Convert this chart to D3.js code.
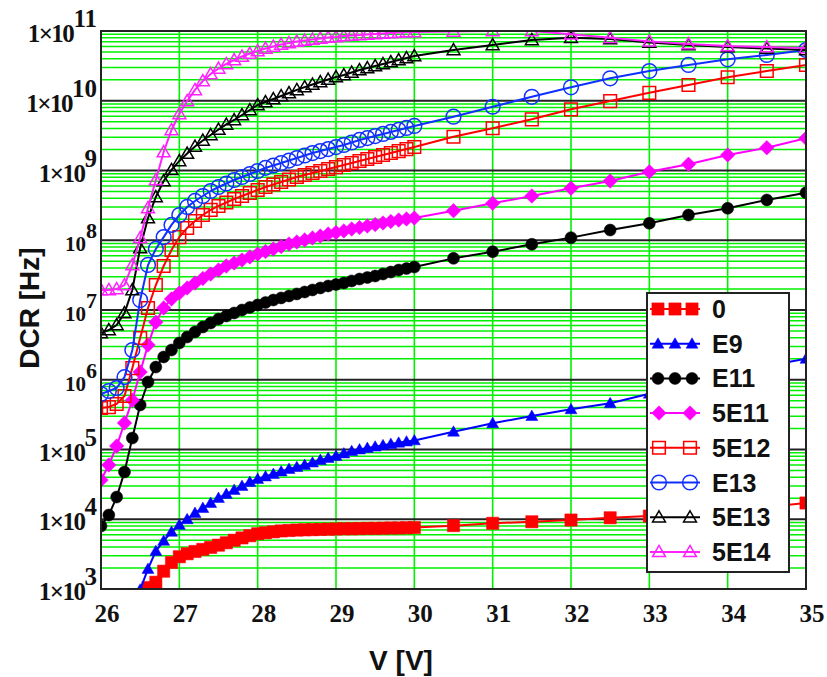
<!DOCTYPE html>
<html>
<head>
<meta charset="utf-8">
<script src="https://cdn.jsdelivr.net/npm/d3@7"></script>
<style>
  body { margin: 0; background: #fff; }
</style>
</head>
<body>
<svg id="chart" width="827" height="677"></svg>
<script>
// voltage steps: dense sweep up to 30 V, then 0.5 V steps
var vLow = [26.0, 26.1, 26.2, 26.3, 26.4, 26.5, 26.6, 26.7, 26.8, 26.9,
            27.0, 27.1, 27.2, 27.3, 27.4, 27.5, 27.6, 27.7, 27.8, 27.9,
            28.0, 28.1, 28.2, 28.3, 28.4, 28.5, 28.6, 28.7, 28.8, 28.9,
            29.0, 29.1, 29.2, 29.3, 29.4, 29.5, 29.6, 29.7, 29.8, 29.9, 30.0];
var vHigh = [30.5, 31.0, 31.5, 32.0, 32.5, 33.0, 33.5, 34.0, 34.5, 35.0];

// DCR [Hz] per fluence, dense part (matches vLow) and coarse part (matches vHigh)
var dcr0Low = [null, null, null, null, null, null, 1.05e3, 1.25e3, 1.8e3, 2.4e3,
               2.9e3, 3.2e3, 3.45e3, 3.7e3, 3.95e3, 4.25e3, 4.6e3, 5.0e3, 5.4e3, 5.8e3,
               6.2e3, 6.4e3, 6.6e3, 6.8e3, 6.9e3, 7.0e3, 7.05e3, 7.1e3, 7.15e3, 7.2e3,
               7.25e3, 7.3e3, 7.3e3, 7.35e3, 7.4e3, 7.4e3, 7.45e3, 7.5e3, 7.5e3, 7.55e3, 7.6e3];
var dcr0High = [8.1e3, 8.75e3, 9.2e3, 9.75e3, 1.05e4, 1.11e4, 1.22e4, 1.35e4, 1.5e4, 1.71e4];

var dcrE9Low = [null, null, null, null, null, 9.8e2, 1.94e3, 3.5e3, 4.9e3, 6.6e3,
                8.3e3, 1.0e4, 1.23e4, 1.45e4, 1.71e4, 2.02e4, 2.3e4, 2.63e4, 3.0e4, 3.42e4,
                3.78e4, 4.1e4, 4.45e4, 4.84e4, 5.25e4, 5.6e4, 6.0e4, 6.5e4, 7.07e4, 7.55e4,
                8.07e4, 8.77e4, 9.5e4, 1.0e5, 1.05e5, 1.1e5, 1.15e5, 1.2e5, 1.25e5, 1.3e5, 1.35e5];
var dcrE9High = [1.8e5, 2.38e5, 3.02e5, 3.77e5, 4.6e5, 6.3e5, 8.7e5, 1.17e6, 1.57e6, 2.0e6];

var dcrE11Low = [8.0e3, 1.15e4, 2.08e4, 4.76e4, 1.46e5, 4.35e5, 9.3e5, 1.52e6, 2.12e6, 2.67e6,
                 3.37e6, 4.1e6, 4.84e6, 5.7e6, 6.5e6, 7.4e6, 8.2e6, 9.06e6, 1.0e7, 1.09e7,
                 1.18e7, 1.28e7, 1.39e7, 1.49e7, 1.59e7, 1.7e7, 1.81e7, 1.94e7, 2.07e7, 2.21e7,
                 2.32e7, 2.44e7, 2.61e7, 2.78e7, 2.92e7, 3.07e7, 3.28e7, 3.5e7, 3.74e7, 3.93e7, 4.13e7];
var dcrE11High = [5.5e7, 6.85e7, 8.75e7, 1.09e8, 1.4e8, 1.75e8, 2.3e8, 2.87e8, 3.78e8, 4.8e8];

var dcr5E11Low = [3.65e4, 6.0e4, 1.12e5, 2.4e5, 5.1e5, 1.29e6, 3.15e6, 6.7e6, 1.07e7, 1.44e7,
                  1.75e7, 2.07e7, 2.44e7, 2.83e7, 3.28e7, 3.74e7, 4.27e7, 4.72e7, 5.21e7, 5.75e7,
                  6.35e7, 6.9e7, 7.5e7, 8.13e7, 8.84e7, 9.44e7, 1.01e8, 1.08e8, 1.15e8, 1.23e8,
                  1.29e8, 1.36e8, 1.45e8, 1.52e8, 1.6e8, 1.68e8, 1.77e8, 1.86e8, 1.95e8, 2.02e8, 2.08e8];
var dcr5E11High = [2.65e8, 3.39e8, 4.31e8, 5.56e8, 7.07e8, 9.6e8, 1.23e9, 1.67e9, 2.12e9, 2.9e9];

var dcr5E12Low = [3.94e5, 4.06e5, 4.49e5, 5.85e5, 1.47e6, 3.97e6, 1.07e7, 2.28e7, 4.27e7, 7.25e7,
                  1.11e8, 1.5e8, 1.89e8, 2.3e8, 2.72e8, 3.1e8, 3.48e8, 3.9e8, 4.31e8, 4.76e8,
                  5.25e8, 5.8e8, 6.3e8, 6.84e8, 7.43e8, 8.07e8, 8.61e8, 9.2e8, 9.84e8, 1.05e9,
                  1.12e9, 1.2e9, 1.28e9, 1.37e9, 1.46e9, 1.56e9, 1.67e9, 1.78e9, 1.9e9, 2.03e9, 2.17e9];
var dcr5E12High = [3.05e9, 4.03e9, 5.42e9, 7.54e9, 9.9e9, 1.3e10, 1.68e10, 2.17e10, 2.67e10, 3.25e10];

var dcrE13Low = [6.25e5, 6.9e5, 7.62e5, 1.09e6, 2.67e6, 1.39e7, 4.42e7, 7.5e7, 1.11e8, 1.66e8,
                 2.3e8, 3.0e8, 3.66e8, 4.31e8, 5.08e8, 5.8e8, 6.51e8, 7.31e8, 8.07e8, 8.91e8,
                 9.84e8, 1.09e9, 1.18e9, 1.28e9, 1.39e9, 1.51e9, 1.64e9, 1.78e9, 1.9e9, 2.03e9,
                 2.17e9, 2.32e9, 2.52e9, 2.74e9, 2.92e9, 3.12e9, 3.34e9, 3.57e9, 3.81e9, 4.07e9, 4.35e9];
var dcrE13High = [5.9e9, 8.2e9, 1.14e10, 1.56e10, 2.1e10, 2.67e10, 3.26e10, 3.93e10, 4.53e10, 5.34e10];

var dcr5E13Low = [4.68e6, 5.17e6, 6.1e6, 9.06e6, 1.94e7, 7.74e7, 2.08e8, 4.17e8, 7.07e8, 1.02e9,
                  1.37e9, 1.75e9, 2.21e9, 2.69e9, 3.23e9, 3.87e9, 4.57e9, 5.3e9, 6.25e9, 7.37e9,
                  8.69e9, 9.6e9, 1.06e10, 1.17e10, 1.29e10, 1.43e10, 1.57e10, 1.71e10, 1.86e10, 2.02e10,
                  2.19e10, 2.34e10, 2.54e10, 2.76e10, 2.95e10, 3.15e10, 3.37e10, 3.6e10, 3.84e10, 4.1e10, 4.38e10];
var dcr5E13High = [5.35e10, 6.3e10, 7.43e10, 8.0e10, 7.67e10, 6.84e10, 6.3e10, 5.9e10, 5.6e10, 5.35e10];

var dcr5E14Low = [1.94e7, 1.94e7, 2.0e7, 2.28e7, 4.42e7, 1.08e8, 2.9e8, 7.31e8, 1.84e9, 3.81e9,
                  6.46e9, 9.9e9, 1.43e10, 1.92e10, 2.42e10, 2.9e10, 3.37e10, 3.84e10, 4.31e10, 4.76e10,
                  5.16e10, 5.61e10, 6.0e10, 6.4e10, 6.73e10, 7.07e10, 7.31e10, 7.55e10, 7.8e10, 8.07e10,
                  8.2e10, 8.47e10, 8.61e10, 8.77e10, 8.91e10, 9.06e10, 9.2e10, 9.36e10, 9.51e10, 9.68e10, 9.7e10];
var dcr5E14High = [9.85e10, 1.0e11, 1.0e11, 9.0e10, 8.0e10, 7.1e10, 6.5e10, 6.1e10, 5.9e10, 5.7e10];

var seriesNames = ["0", "E9", "E11", "5E11", "5E12", "E13", "5E13", "5E14"];
var seriesLow = [dcr0Low, dcrE9Low, dcrE11Low, dcr5E11Low, dcr5E12Low, dcrE13Low, dcr5E13Low, dcr5E14Low];
var seriesHigh = [dcr0High, dcrE9High, dcrE11High, dcr5E11High, dcr5E12High, dcrE13High, dcr5E13High, dcr5E14High];

// axis ticks
var xTicks = [26, 27, 28, 29, 30, 31, 32, 33, 34, 35];
var yExps = [3, 4, 5, 6, 7, 8, 9, 10, 11];
var yPrefix = ["1\u00d710", "1\u00d710", "1\u00d710", "10", "10", "10", "1\u00d710", "1\u00d710", "1\u00d710"];

// marker styles per series
var styles = {
  "0":    { color: "#ff0000", shape: "square",   fill: true,  size: 150 },
  "E9":   { color: "#0000ff", shape: "triangle", fill: true,  size: 62 },
  "E11":  { color: "#000000", shape: "circle",   fill: true,  size: 113 },
  "5E11": { color: "#ff00ff", shape: "diamond",  fill: true,  size: 105 },
  "5E12": { color: "#ff0000", shape: "square",   fill: false, size: 160 },
  "E13":  { color: "#1030ff", shape: "circle",   fill: false, size: 170 },
  "5E13": { color: "#000000", shape: "triangle", fill: false, size: 72 },
  "5E14": { color: "#ff22ff", shape: "triangle", fill: false, size: 72 }
};

var serif = "'Liberation Serif', 'Times New Roman', serif";
var sans = "'Liberation Sans', Arial, sans-serif";

var margin = { top: 31, right: 21, bottom: 88, left: 101 },
  w = 827 - margin.left - margin.right,
  h = 677 - margin.top - margin.bottom;

var svg = d3.select("#chart");
var g = svg.append("g").attr("transform", "translate(" + margin.left + "," + margin.top + ")");

var xScale = d3.scaleLinear().domain([26, 35]).range([0, w]);
var yScale = d3.scaleLog().domain([1e3, 1e11]).range([h, 0]);

// horizontal grid: green minor lines, dark decade lines
var yGrid = yScale.ticks();
g.selectAll(".gminor")
  .data(yGrid.filter(function (v) { return Math.abs(Math.log10(v) % 1) > 1e-6; }))
  .enter().append("line")
  .attr("x1", 0).attr("x2", w)
  .attr("y1", function (v) { return yScale(v); })
  .attr("y2", function (v) { return yScale(v); })
  .attr("stroke", "#00f000").attr("stroke-width", 1.6);
// vertical grid
g.selectAll(".gx")
  .data(xTicks.slice(1, -1))
  .enter().append("line")
  .attr("x1", function (v) { return xScale(v); })
  .attr("x2", function (v) { return xScale(v); })
  .attr("y1", 0).attr("y2", h)
  .attr("stroke", "#00f000").attr("stroke-width", 1.6);
g.selectAll(".gmajor")
  .data(yExps.slice(1, -1))
  .enter().append("line")
  .attr("x1", 0).attr("x2", w)
  .attr("y1", function (e) { return yScale(Math.pow(10, e)); })
  .attr("y2", function (e) { return yScale(Math.pow(10, e)); })
  .attr("stroke", "#222").attr("stroke-width", 1.8);

// clip for plot area
svg.append("defs").append("clipPath").attr("id", "plotclip")
  .append("rect").attr("x", 0).attr("y", 0).attr("width", w).attr("height", h);

function symbolPath(st) {
  var type = d3.symbolSquare;
  if (st.shape === "circle") type = d3.symbolCircle;
  if (st.shape === "triangle") type = d3.symbolTriangle;
  return d3.symbol().type(type).size(st.size)();
}

function drawMarker(sel, st) {
  sel.append("path")
    .attr("d", symbolPath(st))
    .attr("transform", function (d) {
      var t = "translate(" + d[0] + "," + d[1] + ")";
      if (st.shape === "diamond") t += " rotate(45)";
      if (st.shape === "triangle") t += " translate(0,1)";
      return t;
    })
    .attr("fill", st.fill ? st.color : "none")
    .attr("stroke", st.color)
    .attr("stroke-width", st.fill ? 0.5 : 1.5);
}

var plot = g.append("g").attr("clip-path", "url(#plotclip)");

var line = d3.line()
  .defined(function (d) { return d.dcr != null; })
  .x(function (d) { return xScale(d.v); })
  .y(function (d) { return yScale(d.dcr); });

seriesNames.forEach(function (name, i) {
  var st = styles[name];
  var pts = [];
  vLow.forEach(function (v, j) { pts.push({ v: v, dcr: seriesLow[i][j] }); });
  vHigh.forEach(function (v, j) { pts.push({ v: v, dcr: seriesHigh[i][j] }); });

  var sg = plot.append("g");
  sg.append("path").datum(pts)
    .attr("d", line)
    .attr("fill", "none")
    .attr("stroke", st.color)
    .attr("stroke-width", 2);

  var valid = pts.filter(function (d) { return d.dcr != null; })
    .map(function (d) { return [xScale(d.v), yScale(d.dcr)]; });
  var m = sg.selectAll(".m").data(valid).enter();
  drawMarker(m, st);
});

// plot frame
g.append("rect").attr("width", w).attr("height", h)
  .attr("fill", "none").attr("stroke", "#222").attr("stroke-width", 2);

// x tick labels
g.selectAll(".xl").data(xTicks).enter().append("text")
  .attr("x", function (v) { return xScale(v) + 6; })
  .attr("y", h + 33)
  .attr("text-anchor", "middle")
  .style("font-family", serif).style("font-weight", "bold").style("font-size", "25px")
  .attr("fill", "#111")
  .text(function (v) { return v; });

// y tick labels like 1x10^11
yExps.forEach(function (e, i) {
  var small = yPrefix[i] === "10";
  var t = g.append("text")
    .attr("x", -4)
    .attr("y", yScale(Math.pow(10, e)) + 11)
    .attr("text-anchor", "end")
    .attr("fill", "#111")
    .style("font-family", serif).style("font-weight", "bold")
    .style("font-size", small ? "21px" : "25px");
  t.append("tspan").style("letter-spacing", small ? "0px" : "-1.5px").text(yPrefix[i]);
  t.append("tspan").attr("dy", small ? -13 : -15).style("font-size", small ? "22px" : "25px").text(e);
});

// axis titles
svg.append("text")
  .attr("transform", "translate(39,308) rotate(-90)")
  .attr("text-anchor", "middle")
  .style("font-family", sans).style("font-weight", "bold").style("font-size", "28px")
  .attr("fill", "#111")
  .text("DCR [Hz]");
svg.append("text")
  .attr("x", 401).attr("y", 670)
  .attr("text-anchor", "middle")
  .style("font-family", sans).style("font-weight", "bold").style("font-size", "28px")
  .attr("fill", "#111")
  .text("V [V]");

// legend
var lg = svg.append("g").attr("transform", "translate(647,293)");
lg.append("rect").attr("width", 142).attr("height", 279)
  .attr("fill", "#fff").attr("stroke", "#222").attr("stroke-width", 2);
seriesNames.forEach(function (name, i) {
  var st = styles[name];
  var cy = 16 + i * 34.7;
  var row = lg.append("g");
  row.append("line").attr("x1", 3).attr("x2", 53).attr("y1", cy).attr("y2", cy)
    .attr("stroke", st.color).attr("stroke-width", 2);
  var xs = st.fill && st.shape !== "diamond" ? [11, 28, 45] : [12, 43];
  drawMarker(row.selectAll(".lm").data(xs.map(function (x) { return [x, cy]; })).enter(), st);
  row.append("text")
    .attr("x", 65).attr("y", cy + 9)
    .style("font-family", sans).style("font-weight", "bold").style("font-size", "25px")
    .attr("fill", "#111")
    .text(name);
});
</script>
</body>
</html>
